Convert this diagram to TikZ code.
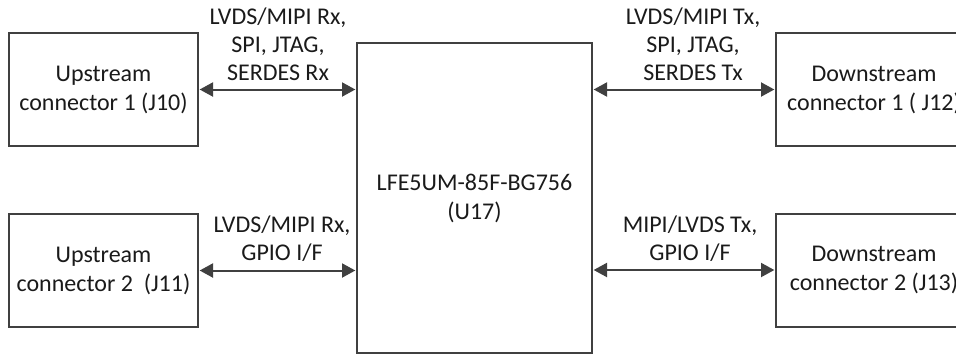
\documentclass[tikz,border=0pt]{standalone}
\usepackage{fontspec}
\setmainfont{Carlito}
\usetikzlibrary{arrows.meta}
\definecolor{linegray}{HTML}{404040}
\definecolor{txt}{HTML}{1A1A1A}
\begin{document}
\begin{tikzpicture}[x=0.75pt,y=-0.75pt,
  box/.style={draw=linegray,line width=1.5pt,minimum width=189*0.75pt,minimum height=113*0.75pt,inner sep=0pt,align=center,font=\fontsize{18}{21.75}\selectfont,text=txt},
  lbl/.style={align=center,font=\fontsize{18}{21}\selectfont,text=txt,inner sep=0pt},
  link/.style={draw=linegray,line width=1.5pt,{Triangle[length=10pt,width=10.5pt]}-{Triangle[length=10pt,width=10.5pt]},shorten <=0.5pt,shorten >=0.5pt}]
\useasboundingbox (0,0) rectangle (956,354);
\begin{scope}
\clip (0,0) rectangle (956,354);
\node[box] (u1) at (103.5,89.5) {Upstream\\connector 1 (J10)};
\node[box] (u2) at (103.5,270.5) {Upstream\\connector 2\ \ (J11)};
\node[box,minimum width=235*0.75pt,minimum height=310*0.75pt] (c) at (474.5,198) {LFE5UM-85F-BG756\\(U17)};
\node[box,minimum width=196*0.75pt] (d1) at (874,89.5) {Downstream\\connector 1 ( J12)};
\node[box,minimum width=196*0.75pt] (d2) at (874,270) {Downstream\\connector 2 (J13)};
\end{scope}
\coordinate (cl1) at (c.west |- u1.east);
\coordinate (cl2) at (c.west |- u2.east);
\coordinate (cr1) at (c.east |- d1.west);
\coordinate (cr2) at (c.east |- d2.west);
\draw[link] (u1.east) -- (cl1);
\draw[link] (u2.east) -- (cl2);
\draw[link] (cr1) -- (d1.west);
\draw[link] (cr2) -- (d2.west);
\node[lbl] (l1) at (278,44) {LVDS/MIPI Rx,\\SPI, JTAG,\\SERDES Rx};
\node[lbl] (l2) at (282,239) {LVDS/MIPI Rx,\\GPIO I/F};
\node[lbl] (l3) at (693,44) {LVDS/MIPI Tx,\\SPI, JTAG,\\SERDES Tx};
\node[lbl] (l4) at (690,239) {MIPI/LVDS Tx,\\GPIO I/F};
\end{tikzpicture}
\end{document}
